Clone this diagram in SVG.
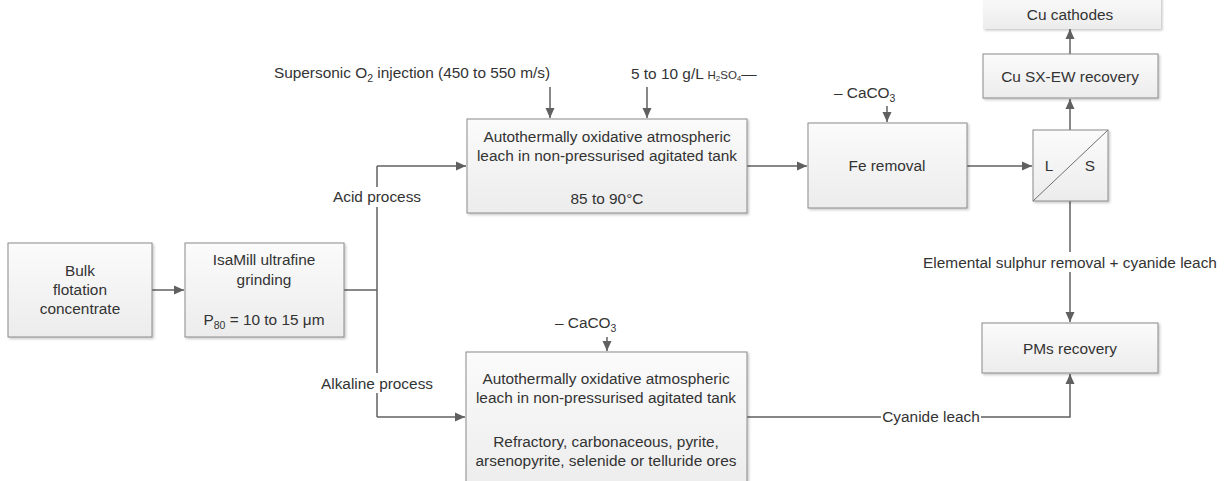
<svg xmlns="http://www.w3.org/2000/svg" width="1225" height="481" viewBox="0 0 1225 481">
<defs>
<linearGradient id="bg" x1="0" y1="0" x2="0" y2="1">
<stop offset="0" stop-color="#fbfbfb"/>
<stop offset="1" stop-color="#ececec"/>
</linearGradient>
<filter id="sh" x="-5%" y="-5%" width="112%" height="120%">
<feDropShadow dx="1.5" dy="1.5" stdDeviation="1" flood-color="#000" flood-opacity="0.22"/>
</filter>
<marker id="ah" viewBox="0 0 10 10" refX="10" refY="5" markerWidth="10" markerHeight="10" markerUnits="userSpaceOnUse" orient="auto">
<path d="M0,0.5 L10,5 L0,9.5 Z" fill="#606060"/>
</marker>
<style>
.box{fill:url(#bg);stroke:#8a8a8a;stroke-width:1;filter:url(#sh)}
.t{font-family:"Liberation Sans",Arial,sans-serif;font-size:15.4px;fill:#333;text-anchor:middle}
.ts{font-family:"Liberation Sans",Arial,sans-serif;font-size:15.4px;fill:#333}
.c{fill:none;stroke:#606060;stroke-width:1.5}
.a{marker-end:url(#ah)}
.lb{fill:#fff}
</style>
</defs>
<g id="connectors">
<path class="c a" d="M152,290 H184"/>
<path class="c" d="M344,290 H377"/>
<path class="c" d="M377,166 V417"/>
<path class="c a" d="M377,166 H466"/>
<path class="c a" d="M377,417 H465"/>
<path class="c a" d="M550,87 V118"/>
<path class="c a" d="M647,87 V118"/>
<path class="c a" d="M747,166 H807"/>
<path class="c a" d="M887,106 V122"/>
<path class="c a" d="M967,166 H1032"/>
<path class="c a" d="M1070,130 V99"/>
<path class="c a" d="M1070,54 V29"/>
<path class="c a" d="M1070,201 V322"/>
<path class="c a" d="M747,417 H1070 V374"/>
<path class="c a" d="M607,337 V351"/>
<rect class="lb" x="323" y="187" width="108" height="20"/>
<text class="t" x="377" y="202">Acid process</text>
<rect class="lb" x="318" y="373" width="118" height="20"/>
<text class="t" x="377" y="389">Alkaline process</text>
<rect class="lb" x="921" y="252" width="298" height="20"/>
<text class="t" x="1070" y="268">Elemental sulphur removal + cyanide leach</text>
<rect class="lb" x="881" y="406" width="100" height="20"/>
<text class="t" x="931" y="422">Cyanide leach</text>
</g>
<g id="bulk">
<rect class="box" x="8" y="243" width="144" height="94"/>
<text class="t" x="80" y="276">Bulk</text>
<text class="t" x="80" y="295">flotation</text>
<text class="t" x="80" y="314">concentrate</text>
</g>
<g id="isamill">
<rect class="box" x="185" y="243" width="159" height="94"/>
<text class="t" x="264" y="265">IsaMill ultrafine</text>
<text class="t" x="264" y="285">grinding</text>
<text class="t" x="264" y="325">P<tspan font-size="10.5px" dy="4">80</tspan><tspan dy="-4"> = 10 to 15 μm</tspan></text>
</g>
<g id="supersonic">
<text class="t" x="412" y="78">Supersonic O<tspan font-size="10.5px" dy="4">2</tspan><tspan dy="-4"> injection (450 to 550 m/s)</tspan></text>
</g>
<g id="h2so4">
<text class="ts" x="631" y="79">5 to 10 g/L <tspan font-size="11.5px">H</tspan><tspan font-size="8px" dy="2">2</tspan><tspan font-size="11.5px" dy="-2">SO</tspan><tspan font-size="8px" dy="2">4</tspan><tspan dy="-2">—</tspan></text>
</g>
<g id="acid-leach">
<rect class="box" x="467" y="119" width="280" height="94"/>
<text class="t" x="607" y="142">Autothermally oxidative atmospheric</text>
<text class="t" x="607" y="161">leach in non-pressurised agitated tank</text>
<text class="t" x="607" y="204">85 to 90°C</text>
</g>
<g id="caco3-fe">
<text class="ts" x="834" y="98">–  CaCO<tspan font-size="10.5px" dy="4">3</tspan></text>
</g>
<g id="fe-removal">
<rect class="box" x="808" y="123" width="159" height="85"/>
<text class="t" x="887" y="171">Fe removal</text>
</g>
<g id="ls">
<rect class="box" x="1033" y="130" width="75" height="71"/>
<path d="M1033,201 L1108,130" stroke="#707070" stroke-width="1" fill="none"/>
<text class="t" x="1049" y="171">L</text>
<text class="t" x="1090" y="171">S</text>
</g>
<g id="cu-sxew">
<rect class="box" x="983" y="54" width="175" height="44"/>
<text class="t" x="1070" y="82">Cu SX-EW recovery</text>
</g>
<g id="cu-cathodes">
<rect x="983" y="-6" width="178" height="35" fill="url(#bg)" filter="url(#sh)"/>
<text class="t" x="1070" y="20">Cu cathodes</text>
</g>
<g id="pms">
<rect class="box" x="982" y="323" width="176" height="50"/>
<text class="t" x="1070" y="354">PMs recovery</text>
</g>
<g id="caco3-alk">
<text class="ts" x="555" y="328">–  CaCO<tspan font-size="10.5px" dy="4">3</tspan></text>
</g>
<g id="alkaline-leach">
<rect class="box" x="466" y="352" width="281" height="140"/>
<text class="t" x="606" y="384">Autothermally oxidative atmospheric</text>
<text class="t" x="606" y="403">leach in non-pressurised agitated tank</text>
<text class="t" x="606" y="447">Refractory, carbonaceous, pyrite,</text>
<text class="t" x="606" y="466">arsenopyrite, selenide or telluride ores</text>
</g>
</svg>
